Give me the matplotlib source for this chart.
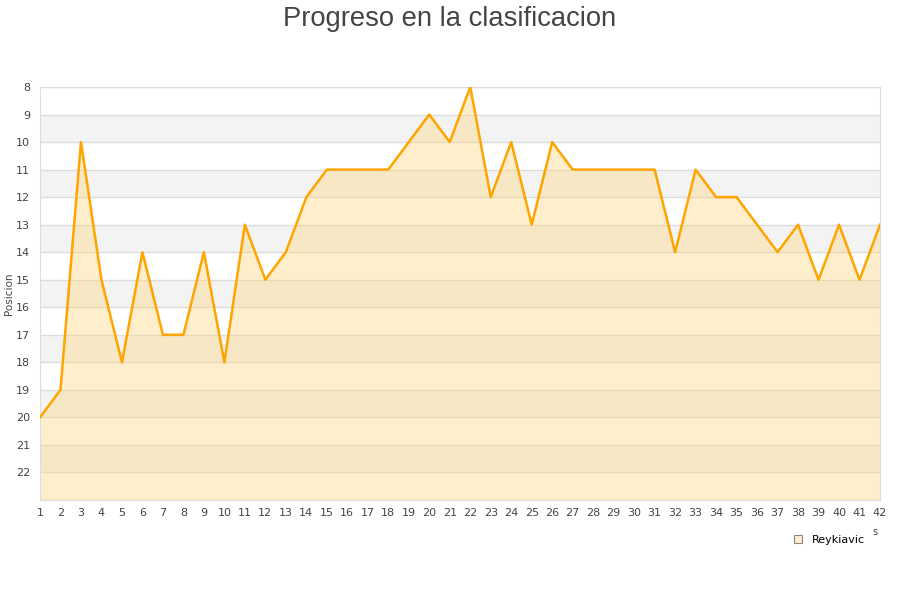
import matplotlib
matplotlib.use("Agg")
import matplotlib.pyplot as plt
from matplotlib.lines import Line2D

# Datos de la clasificacion por jornada
jornadas = list(range(1, 43))
posiciones = [20, 19, 10, 15, 18, 14, 17, 17, 14, 18,
              13, 15, 14, 12, 11, 11, 11, 11, 10, 9,
              10, 8, 12, 10, 13, 10, 11, 11, 11, 11,
              11, 14, 11, 12, 12, 13, 14, 13, 15, 13,
              15, 13]
equipo = "Reykiavic"
ticks_y = list(range(8, 23))

fig = plt.figure(figsize=(9, 6), dpi=100)
ax = fig.add_axes([40 / 900, 1 - 500 / 600, 840 / 900, 413 / 600])

# Bandas alternas grises
for y0 in range(9, 23, 2):
    ax.axhspan(y0, y0 + 1, color="#f3f3f3", zorder=0, lw=0)
for y in range(8, 24):
    ax.axhline(y, color="#dddddd", lw=1, zorder=1)

# Area y linea
ax.fill_between(jornadas, posiciones, 23, color="#ffd580", alpha=0.4, lw=0, zorder=2)
ax.plot(jornadas, posiciones, color="#ffa500", lw=1.8, zorder=3)

ax.set_xlim(1, 42)
ax.set_ylim(23, 8)
ax.set_xticks(jornadas)
ax.set_yticks(ticks_y)
ax.tick_params(axis="both", length=0, labelsize=8, colors="#444444")
ax.tick_params(axis="x", pad=6)
ax.tick_params(axis="y", pad=7)
for s in ax.spines.values():
    s.set_color("#dddddd")
ax.set_ylabel("Posicion", fontsize=7.5, color="#444444")
ax.yaxis.set_label_coords(-0.031, 0.5)

fig.text(0.5, 0.99, "Progreso en la clasificacion", ha="center", va="top",
         fontsize=19.7, color="#444444", family="Liberation Sans")
fig.text(875 / 900, 1 - 532 / 600, "s", ha="center", va="center", fontsize=7, color="#444444")

handle = Line2D([], [], marker="s", ls="none", markersize=6,
                markerfacecolor="#ffeecc", markeredgecolor="#888888", markeredgewidth=0.8)
fig.legend([handle], [equipo], loc="center", bbox_to_anchor=(826 / 900, 1 - 540 / 600),
           frameon=False, fontsize=8, handletextpad=0.3)

fig.savefig("out.png", dpi=100)
